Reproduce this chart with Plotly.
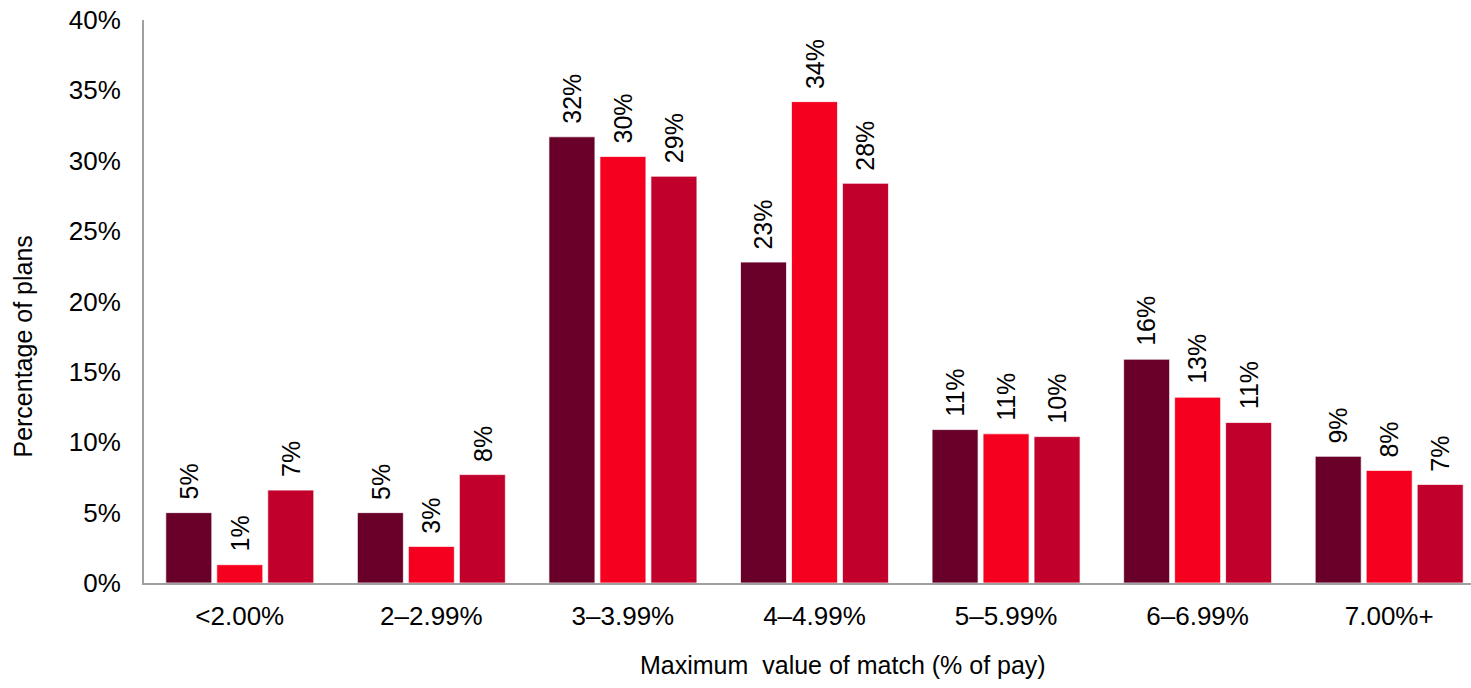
import plotly.graph_objects as go

# Match-value bands on the horizontal axis
categories = ["<2.00%", "2–2.99%", "3–3.99%", "4–4.99%", "5–5.99%", "6–6.99%", "7.00%+"]

# Share of plans in each band, one list per series
series_a = [0.050, 0.050, 0.317, 0.228, 0.109, 0.159, 0.090]
series_b = [0.013, 0.026, 0.303, 0.342, 0.106, 0.132, 0.080]
series_c = [0.066, 0.077, 0.289, 0.284, 0.104, 0.114, 0.070]

series = [series_a, series_b, series_c]
colors = ["#68002A", "#F5001F", "#C2002C"]

FONT = "Liberation Sans, Arial, sans-serif"

fig = go.Figure()
for vals, col in zip(series, colors):
    fig.add_trace(go.Bar(
        x=categories, y=vals,
        marker=dict(color=col, line=dict(color="rgba(255,255,255,0.7)", width=1)),
        showlegend=False,
        hoverinfo="skip",
    ))

# Rotated value labels above each bar
annotations = []
offsets = [-51, 0, 51]
for vals, off in zip(series, offsets):
    for cat, v in zip(categories, vals):
        annotations.append(dict(
            x=cat, y=v, xref="x", yref="y",
            text=f"{round(v * 100):.0f}%",
            textangle=-90, showarrow=False,
            xanchor="center", yanchor="bottom",
            xshift=off, yshift=11,
            font=dict(family=FONT, size=25, color="#000000"),
        ))

annotations.append(dict(
    x=0, y=0.42, xref="paper", yref="paper",
    xshift=-121, text="Percentage of plans", textangle=-90,
    showarrow=False, xanchor="center", yanchor="middle",
    font=dict(family=FONT, size=25, color="#000000"),
))
annotations.append(dict(
    x=0, y=-0.1456, xref="paper", yref="paper",
    xshift=494,
    text="Maximum\u00a0 value of match (% of pay)",
    showarrow=False, xanchor="left", yanchor="middle",
    font=dict(family=FONT, size=25, color="#000000"),
))

fig.update_layout(
    width=1471, height=688,
    margin=dict(l=144, r=0, t=20, b=105),
    paper_bgcolor="white", plot_bgcolor="white",
    barmode="group", bargap=0.2015, bargroupgap=0.098,
    font=dict(family=FONT, size=26, color="#000000"),
    annotations=annotations,
    xaxis=dict(
        range=[-0.5, 6.427], showgrid=False, zeroline=False,
        showline=True, linecolor="#A0A0A0", linewidth=2,
        ticks="", ticklabelstandoff=9,
        tickfont=dict(family=FONT, size=26, color="#000000"),
    ),
    yaxis=dict(
        range=[0, 0.40], dtick=0.05, tickformat=".0%",
        showgrid=False, zeroline=False,
        showline=True, linecolor="#A0A0A0", linewidth=2,
        ticks="", ticklabelstandoff=16,
        tickfont=dict(family=FONT, size=26, color="#000000"),
    ),
)

fig.write_html("out.html")
